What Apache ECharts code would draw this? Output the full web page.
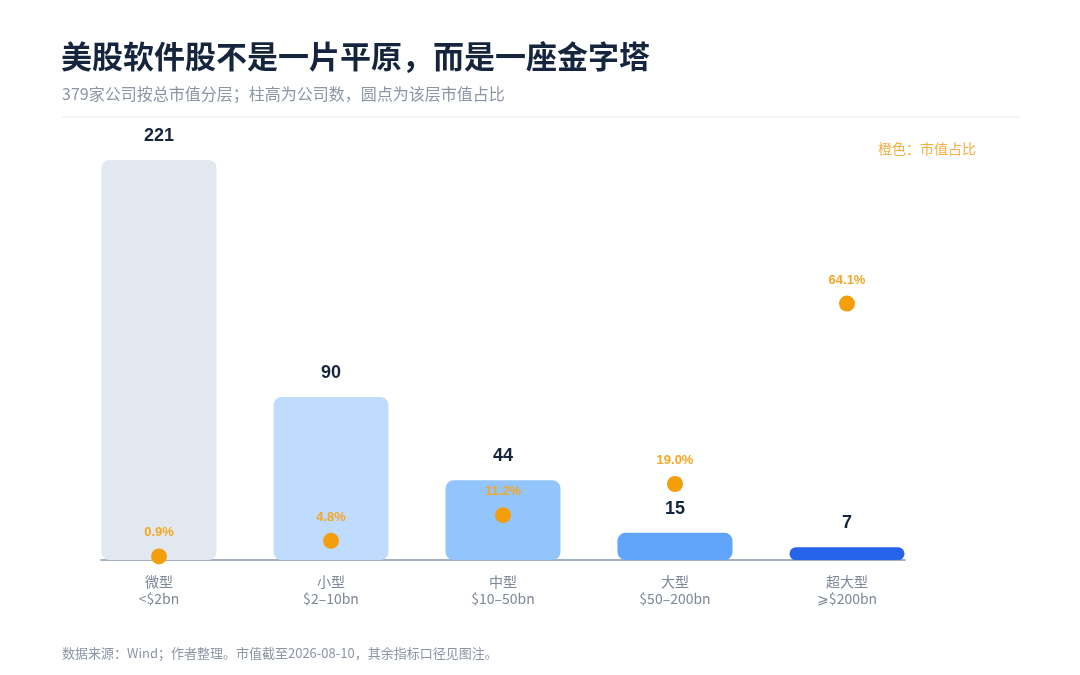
<!DOCTYPE html>
<html>
<head>
<meta charset="utf-8">
<script src="https://cdn.jsdelivr.net/npm/echarts@6/dist/echarts.min.js"></script>
<style>
html,body{margin:0;padding:0;background:#fff;}
#c{width:1080px;height:675px;}
</style>
</head>
<body>
<div id="c"></div>
<script>
var categories = ['微型\n<$2bn', '小型\n$2–10bn', '中型\n$10–50bn', '大型\n$50–200bn', '超大型\n⩾$200bn'];
var companyCounts = [221, 90, 44, 15, 7];
var capShares = [0.9, 4.8, 11.2, 19.0, 64.1];
var barColors = ['#e2e8f0', '#bfdbfe', '#93c5fd', '#60a5fa', '#2563eb'];

var CJK = '"Noto Sans CJK SC", "Noto Sans", sans-serif';
var NUM = '"Liberation Sans", Arial, "Noto Sans CJK SC", sans-serif';

var chart = echarts.init(document.getElementById('c'));
chart.setOption({
  backgroundColor: '#ffffff',
  animation: false,
  title: [
    {text: '美股软件股不是一片平原，而是一座金字塔', left: 56, top: 36,
     textStyle: {fontFamily: CJK, fontSize: 31, fontWeight: 'bold', color: '#15253d'}},
    {text: '379家公司按总市值分层；柱高为公司数，圆点为该层市值占比', left: 57, top: 81,
     textStyle: {fontFamily: CJK, fontSize: 16, fontWeight: 'normal', color: '#8c95a5'}},
    {text: '橙色：市值占比', right: 99, top: 137,
     textStyle: {fontFamily: CJK, fontSize: 14, fontWeight: 'normal', color: '#f5ae42'}},
    {text: '数据来源：Wind；作者整理。市值截至2026-08-10，其余指标口径见图注。', left: 57, top: 642,
     textStyle: {fontFamily: CJK, fontSize: 13, fontWeight: 'normal', color: '#8c95a5'}}
  ],
  graphic: [
    {type: 'line', shape: {x1: 62, y1: 117, x2: 1020, y2: 117},
     style: {stroke: '#e5e8ec', lineWidth: 1}}
  ],
  grid: [
    {left: 73, right: 147, top: 120, bottom: 115},
    {left: 101, right: 175, top: 120, bottom: 115}
  ],
  xAxis: [
    {type: 'category', gridIndex: 0, data: categories,
     axisLine: {show: false}, axisTick: {show: false},
     axisLabel: {margin: 13, fontFamily: CJK, fontSize: 14, color: '#7d8798', lineHeight: 17}},
    {type: 'value', gridIndex: 1, min: 0, max: 1,
     axisLine: {show: true, onZero: false, lineStyle: {color: '#8796ab', width: 1.5}},
     axisTick: {show: false}, axisLabel: {show: false}, splitLine: {show: false}}
  ],
  yAxis: [
    {type: 'value', gridIndex: 0, min: 0, max: 243.1, show: false, splitLine: {show: false}},
    {type: 'value', gridIndex: 0, min: 0, max: 110, show: false, splitLine: {show: false}},
    {type: 'value', gridIndex: 1, min: 0, max: 1, show: false, splitLine: {show: false}}
  ],
  series: [
    {type: 'bar', xAxisIndex: 0, yAxisIndex: 0, barWidth: 115, z: 2,
     data: companyCounts.map(function (v, i) {
       return {value: v, itemStyle: {color: barColors[i]}};
     }),
     itemStyle: {borderRadius: 8},
     label: {show: true, position: 'top', distance: 15,
             fontFamily: NUM, fontSize: 18, fontWeight: 'bold', color: '#15253d'}},
    {type: 'scatter', xAxisIndex: 0, yAxisIndex: 1, symbolSize: 16, z: 5,
     data: capShares,
     itemStyle: {color: '#f59e0b', opacity: 1},
     label: {show: true, position: 'top', distance: 9,
             formatter: function (p) { return p.value.toFixed(1) + '%'; },
             fontFamily: NUM, fontSize: 13, fontWeight: 'bold', color: '#f5a623'}}
  ]
});
</script>
</body>
</html>
